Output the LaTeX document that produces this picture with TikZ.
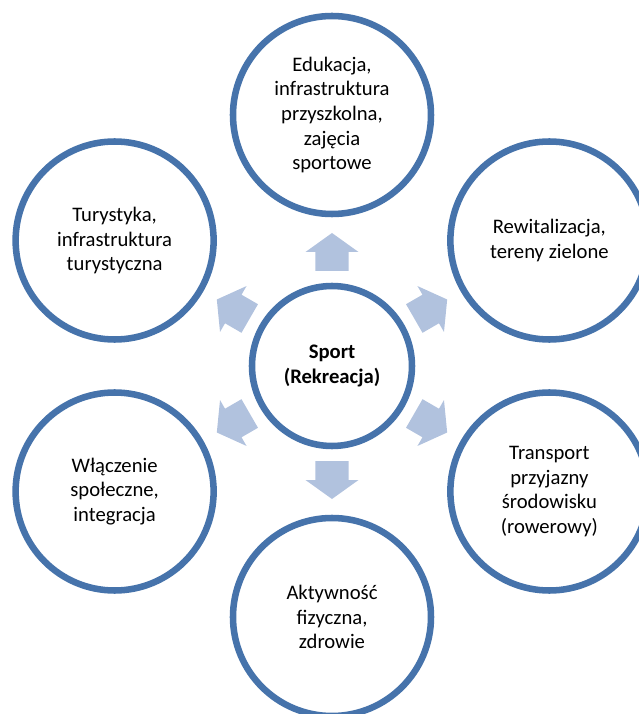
\documentclass[tikz,border=0pt]{standalone}
\usepackage{fontspec}
\setmainfont{Carlito}
\usetikzlibrary{positioning}
\definecolor{ringblue}{RGB}{70,115,171}
\definecolor{arrowblue}{RGB}{177,194,222}

\begin{document}
\begin{tikzpicture}[x=0.75pt,y=0.75pt,
		bigcircle/.style={circle,draw=ringblue,line width=4.9pt,fill=white,minimum size=148.5pt,align=center,
			font=\fontsize{15.5}{18.5}\selectfont},
		midcircle/.style={bigcircle,minimum size=120pt,font=\fontsize{15.5}{18.5}\selectfont\bfseries},
		blockarrow/.style={fill=arrowblue,draw=none}]
		\useasboundingbox (-332,-348) rectangle (307,366);
		\clip (-332,-348) rectangle (307,366);

		\node[midcircle] (sport) at (0,0) {Sport\\(Rekreacja)};

		\node[bigcircle] (edu) at (90:251) {Edukacja,\\infrastruktura\\przyszkolna,\\zajęcia\\sportowe};
		\node[bigcircle] (rewit) at (30:251) {Rewitalizacja,\\tereny zielone};
		\node[bigcircle] (trans) at (-30:251) {Transport\\przyjazny\\środowisku\\(rowerowy)};
		\node[bigcircle] (aktyw) at (-90:251) {Aktywność\\fizyczna,\\zdrowie};
		\node[bigcircle] (wlacz) at (210:251) {Włączenie\\społeczne,\\integracja};
		\node[bigcircle] (tury) at (150:251) {Turystyka,\\infrastruktura\\turystyczna};

		\foreach \a in {90,30,-30,-90,210,150}
		{
			\begin{scope}[shift={(sport.center)},rotate=\a-90]
				\fill[blockarrow] (-16.5,95) -- (16.5,95) -- (16.5,114) -- (26.5,114) -- (0,133) -- (-26.5,114) -- (-16.5,114) -- cycle;
			\end{scope}
		}
	\end{tikzpicture}
\end{document}
